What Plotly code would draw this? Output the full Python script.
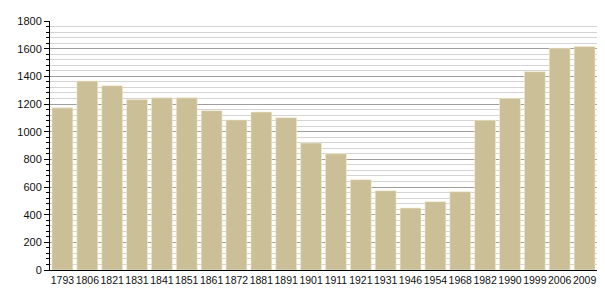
import plotly.graph_objects as go

years = ["1793", "1806", "1821", "1831", "1841", "1851", "1861", "1872", "1881", "1891",
         "1901", "1911", "1921", "1931", "1946", "1954", "1968", "1982", "1990", "1999",
         "2006", "2009"]
population = [1172, 1366, 1332, 1232, 1245, 1245, 1152, 1085, 1142, 1101,
              918, 840, 653, 573, 448, 494, 566, 1083, 1241, 1434, 1603, 1615]

fig = go.Figure()
fig.add_trace(go.Bar(
    x=years, y=population,
    marker=dict(color="#cbbf98", line=dict(color="#f3eccf", width=0.6)),
    hoverinfo="x+y",
))

fig.update_layout(
    width=605, height=300,
    margin=dict(l=50, r=8, t=21, b=30, autoexpand=False),
    paper_bgcolor="white", plot_bgcolor="white",
    bargap=0.16,
    showlegend=False,
    font=dict(family="Liberation Sans, Arial, sans-serif", size=11, color="#111"),
)
fig.update_xaxes(
    type="category",
    showline=True, linecolor="black", linewidth=1,
    ticks="", showgrid=False, tickangle=0, automargin=False,
    tickfont=dict(size=10.5),
)
fig.update_yaxes(
    range=[0, 1800], dtick=200, tick0=0, automargin=False,
    showline=True, linecolor="black", linewidth=1,
    ticks="outside", ticklen=5, tickcolor="black",
    showgrid=True, gridcolor="#9f9f9f", gridwidth=1,
    zeroline=False,
    minor=dict(dtick=40, tick0=0, ticks="outside", ticklen=3, tickcolor="black",
               showgrid=True, gridcolor="#d4d4d4", gridwidth=1),
    tickfont=dict(size=11),
)

fig.write_html("out.html")
